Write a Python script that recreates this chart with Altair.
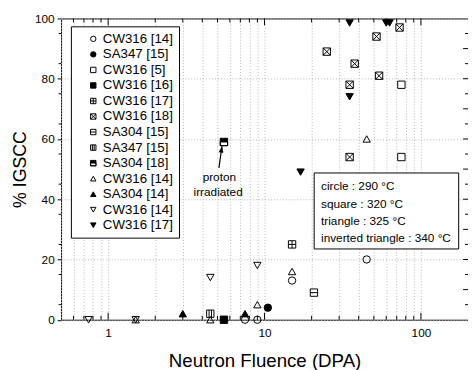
import altair as alt
import pandas as pd

# ---------------- data ----------------
labels = ["CW316 [14]", "SA347 [15]", "CW316 [5]", "CW316 [16]", "CW316 [17]",
          "CW316 [18]", "SA304 [15]", "SA347 [15]", "SA304 [18]", "CW316 [14]",
          "SA304 [14]", "CW316 [14]", "CW316 [17]"]

xs = [
    [7.5, 9, 15, 45],                       # CW316 [14] circle
    [10.5],                                 # SA347 [15] filled circle
    [75, 75],                               # CW316 [5] open square
    [5.5],                                  # CW316 [16] filled square
    [15],                                   # CW316 [17] square plus
    [25, 37.7, 35, 35, 52, 54, 73],         # CW316 [18] square cross
    [20.7],                                 # SA304 [15] square h-line
    [4.5],                                  # SA347 [15] square v-lines
    [5.5],                                  # SA304 [18] half filled
    [1.5, 4.5, 9, 15, 45],                  # CW316 [14] triangle
    [3, 7.5],                               # SA304 [14] filled triangle
    [0.75, 1.5, 4.5, 9],                    # CW316 [14] inverted triangle
    [17, 35, 35, 60, 63],                   # CW316 [17] filled inv triangle
]
ys = [
    [0, 0, 13, 20],
    [4],
    [78, 54],
    [0],
    [25],
    [89, 85, 78, 54, 94, 81, 97],
    [9],
    [2],
    [59],
    [0, 0, 5, 16, 60],
    [2, 2],
    [0, 0, 14, 18],
    [49, 74, 98.5, 98.5, 98.5],
]

SQ = "M-1,-1L1,-1L1,1L-1,1Z"
shapes = [
    "circle", "circle", "square", "square",
    SQ + " M0,-1L0,1 M-1,0L1,0",
    SQ + " M-1,-1L1,1 M1,-1L-1,1",
    SQ + " M-1,0L1,0",
    SQ + " M-0.33,-1L-0.33,1 M0.33,-1L0.33,1",
    SQ + " M-1,0L-1,1L1,1L1,0Z",
    "triangle-up", "triangle-up", "triangle-down", "triangle-down",
]
fills = ["transparent", "black", "transparent", "black", "transparent", "transparent",
         "transparent", "transparent", "black", "transparent", "black", "transparent", "black"]

keys = [f"{i:02d}|{lab}" for i, lab in enumerate(labels)]

rows = []
for k, xv, yv in zip(keys, xs, ys):
    for a, b in zip(xv, yv):
        rows.append({"series": k, "x": a, "y": b})
df = pd.DataFrame(rows)

x_grid = [0.5, 0.6, 0.7, 0.8, 0.9, 1, 2, 3, 4, 5, 6, 7, 8, 9, 10,
          20, 30, 40, 50, 60, 70, 80, 90, 100, 200]
x_major = [1, 10, 100]
x_minor = [0.6, 0.7, 0.8, 0.9, 2, 3, 4, 5, 6, 7, 8, 9, 20, 30, 40, 50, 60, 70, 80, 90]
y_major = list(range(0, 101, 10))
y_minor = list(range(5, 100, 10))

notes = ["circle : 290 \u00b0C", "square : 320 \u00b0C", "triangle : 325 \u00b0C",
         "inverted triangle : 340 \u00b0C"]

W, H = 414, 306.5
FONT = "Liberation Sans"

xscale = alt.Scale(type="log", domain=[0.5, 200], nice=False)
yscale = alt.Scale(domain=[0, 100], nice=False)

legend = alt.Legend(title=None, orient="none", legendX=10, legendY=8,
                    labelExpr="substring(datum.label, 3)", labelFontSize=13.5,
                    labelFont=FONT, labelColor="black", symbolSize=30,
                    symbolStrokeWidth=1,
                    padding=6, rowPadding=0.8, symbolOffset=10, labelOffset=3,
                    strokeColor="black", fillColor="white")

points = alt.Chart(df).mark_point(strokeWidth=1, opacity=1,
                                  fillOpacity=1, size=56).encode(
    x=alt.X("x:Q", scale=xscale,
            axis=alt.Axis(values=x_grid, ticks=False, domain=False, grid=True,
                          gridColor="#b5b5b5", gridDash=[1, 2], gridWidth=1,
                          labelExpr="(datum.value == 1 || datum.value == 10 || datum.value == 100) ? datum.label : ''",
                          labelOverlap=False, labelFontSize=12, labelPadding=8,
                          labelColor="black", title="Neutron Fluence (DPA)",
                          titleFontSize=19, titleFontWeight="normal",
                          titleColor="black", titlePadding=14)),
    y=alt.Y("y:Q", scale=yscale,
            axis=alt.Axis(values=y_major, tickSize=4, tickColor="black", domain=False,
                          grid=True, gridColor="#b5b5b5", gridDash=[1, 2], gridWidth=1,
                          labelFontSize=12, labelPadding=3, labelColor="black",
                          title="% IGSCC", titleFontSize=18, titleFontWeight="normal",
                          titleColor="black", titlePadding=5)),
    shape=alt.Shape("series:N", scale=alt.Scale(domain=keys, range=shapes), legend=legend),
    fill=alt.Fill("series:N", scale=alt.Scale(domain=keys, range=fills), legend=legend),
    stroke=alt.Stroke("series:N", scale=alt.Scale(domain=keys, range=["black"] * len(keys)),
                      legend=legend),
)

xmaj = pd.DataFrame({"x": x_major})
xmin = pd.DataFrame({"x": x_minor})
ymaj = pd.DataFrame({"y": y_major[1:-1]})
ymin = pd.DataFrame({"y": y_minor})

def xticks(d, y0, y1):
    return alt.Chart(d).mark_rule(color="black", strokeWidth=1).encode(
        x="x:Q", y=alt.value(y0), y2=alt.value(y1))

def yticks(d, x0, x1):
    return alt.Chart(d).mark_rule(color="black", strokeWidth=1).encode(
        y="y:Q", x=alt.value(x0), x2=alt.value(x1))

tick_layers = [
    xticks(xmaj, H, H - 7), xticks(xmin, H, H - 4),
    xticks(xmaj, 0, 7), xticks(xmin, 0, 4),
    yticks(ymaj, W, W - 5), yticks(ymin, W, W - 3),
    yticks(ymin, 0, -2.5),
]

# annotation: "proton irradiated" arrow
arrow_df = pd.DataFrame({"x": [5.11], "y": [50.4], "x2": [5.34], "y2": [57.5]})
arrow = alt.Chart(arrow_df).mark_rule(color="black", strokeWidth=1.2).encode(
    x="x:Q", y="y:Q", x2="x2:Q", y2="y2:Q")
head_df = pd.DataFrame({"x": [5.34], "y": [57.5]})
head = alt.Chart(head_df).mark_point(shape="M0,0L-1,3L1,3Z", angle=8, filled=True,
                                     fill="black", stroke="black", strokeWidth=0.5,
                                     opacity=1, size=16).encode(x="x:Q", y="y:Q")
ann_df = pd.DataFrame({"x": [5.14, 5.05], "y": [47.2, 42.3], "t": ["proton", "irradiated"]})
ann = alt.Chart(ann_df).mark_text(fontSize=12, font=FONT, color="black",
                                  baseline="middle", align="center").encode(
    x="x:Q", y="y:Q", text="t:N")

# temperature box
one = pd.DataFrame({"a": [0]})
box = alt.Chart(one).mark_rect(fill="white", stroke="black", strokeWidth=1).encode(
    x=alt.value(257.5), x2=alt.value(404.5), y=alt.value(157.2), y2=alt.value(234.5))
note_layers = []
for i, t in enumerate(notes):
    note_layers.append(
        alt.Chart(one).mark_text(text=t, fontSize=12, font=FONT, color="black",
                                 align="left", baseline="middle").encode(
            x=alt.value(264.5), y=alt.value(171.0 + 17.5 * i)))

chart = alt.layer(points, *tick_layers, arrow, head, ann, box, *note_layers).properties(
    width=W, height=H, autosize="none",
    padding={"left": 54, "top": 7.5, "right": 0, "bottom": 48},
).configure(font=FONT).configure_view(stroke="black", strokeWidth=1).configure_axis(
    labelFont=FONT, titleFont=FONT)

chart.save("out.html", embed_options={"renderer": "svg", "actions": False})
